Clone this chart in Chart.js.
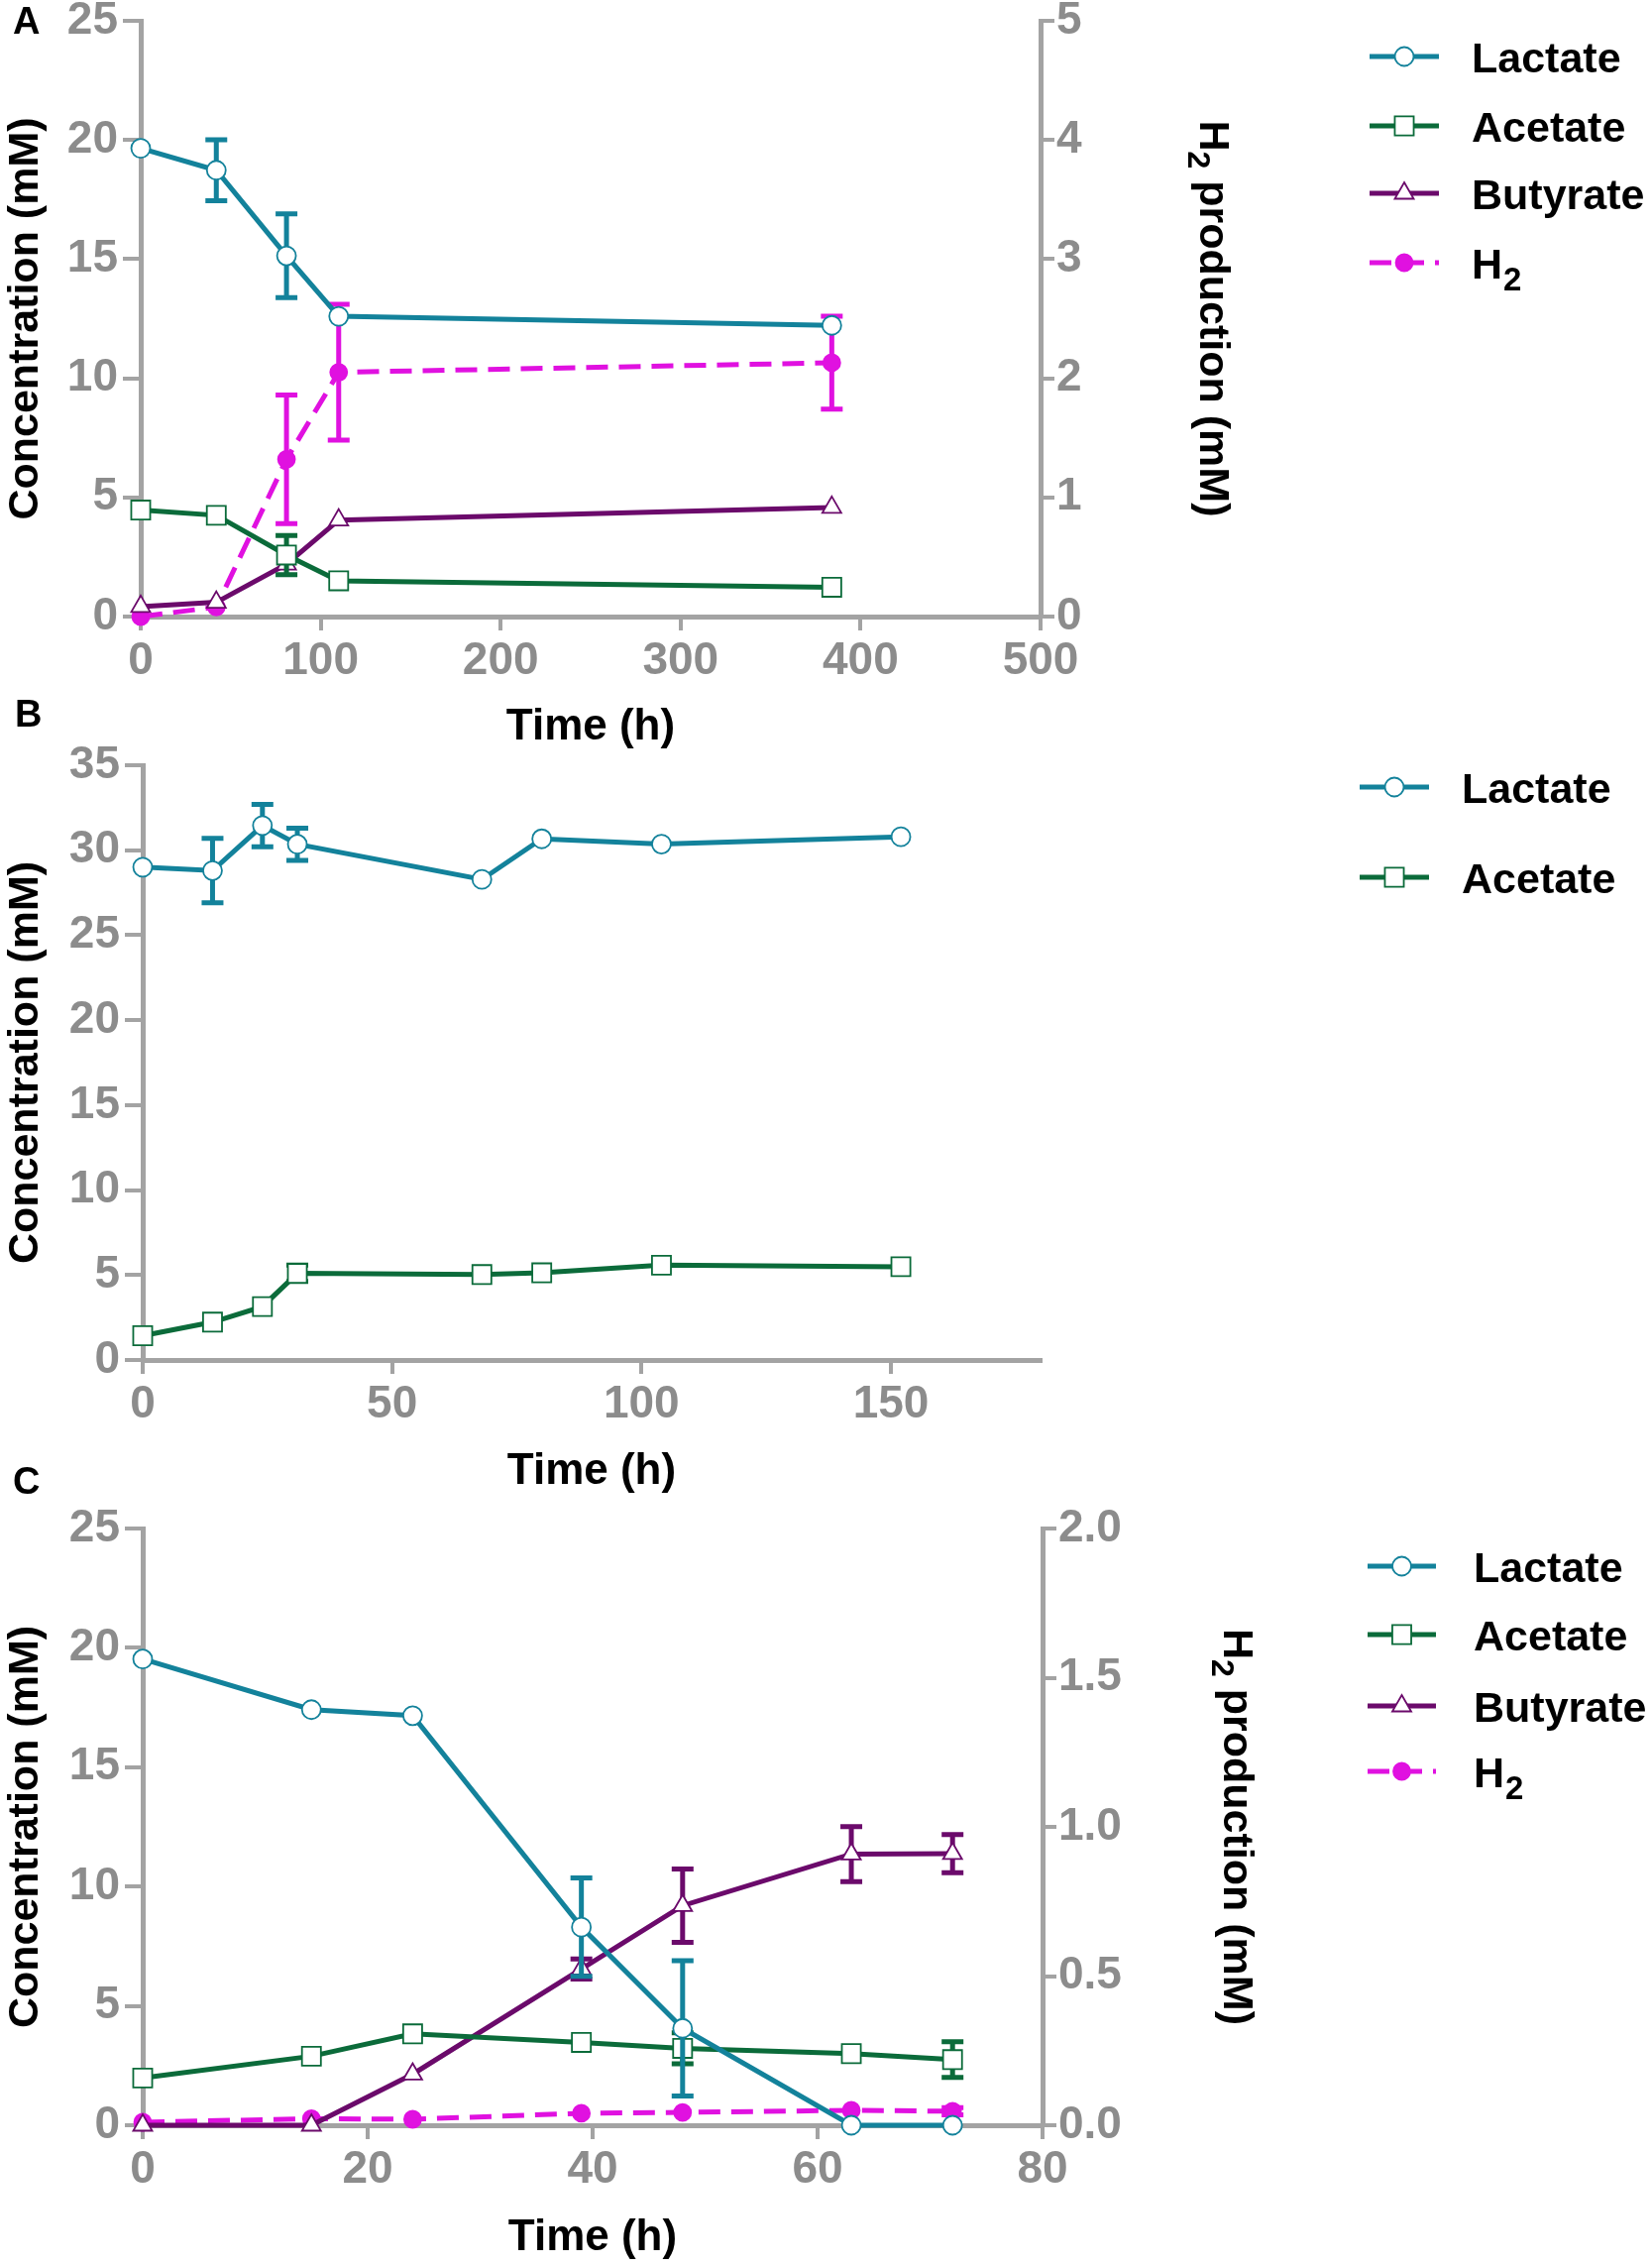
<!DOCTYPE html>
<html>
<head>
<meta charset="utf-8">
<script src="https://cdn.jsdelivr.net/npm/chart.js@4.4.1/dist/chart.umd.min.js"></script>
<style>
    body { margin: 0; background: #fff; width: 1667px; height: 2286px; position: relative; overflow: hidden; }
    .panel { position: absolute; left: 0; width: 1667px; }
</style>
</head>
<body>
<div class="panel" style="top:0;height:770px"><canvas id="chartA"></canvas></div>
<div class="panel" style="top:700px;height:820px"><canvas id="chartB"></canvas></div>
<div class="panel" style="top:1470px;height:816px"><canvas id="chartC"></canvas></div>

<script>
// Values (time in h, concentrations in mM)
const timeA = [0, 42, 81, 110, 384];
const lactateA = [19.65, 18.73, 15.14, 12.6, 12.22];
const lactateErrA = [0, 1.28, 1.76, 0, 0];
const acetateA = [4.47, 4.25, 2.58, 1.5, 1.23];
const acetateErrA = [0, 0, 0.82, 0, 0];
const butyrateA = [0.42, 0.6, 2.2, 4.05, 4.58];
const h2A = [0, 0.08, 1.32, 2.05, 2.13];
const h2ErrA = [0, 0, 0.54, 0.57, 0.39];

const timeB = [0, 14, 24, 31, 68, 80, 104, 152];
const lactateB = [29.0, 28.8, 31.45, 30.35, 28.28, 30.67, 30.36, 30.79];
const lactateErrB = [0, 1.9, 1.25, 0.95, 0, 0, 0, 0];
const acetateB = [1.43, 2.23, 3.14, 5.1, 5.03, 5.13, 5.58, 5.49];
const acetateErrB = [0, 0, 0, 0.48, 0, 0, 0, 0];

const timeC = [0, 15, 24, 39, 48, 63, 72];
const lactateC = [19.53, 17.41, 17.16, 8.3, 4.06, 0, 0];
const lactateErrC = [0, 0, 0, 2.06, 2.83, 0, 0];
const acetateC = [1.98, 2.89, 3.83, 3.47, 3.22, 3.0, 2.75];
const acetateErrC = [0, 0, 0, 0, 0.65, 0, 0.75];
const butyrateC = [0, 0, 2.14, 6.55, 9.2, 11.36, 11.38];
const butyrateErrC = [0, 0, 0, 0.42, 1.54, 1.15, 0.8];
const h2C = [0.01, 0.022, 0.02, 0.04, 0.043, 0.05, 0.047];
const h2ErrC = [0, 0, 0, 0, 0, 0, 0.012];

const FONT = "'Liberation Sans', Arial, sans-serif";
const AXIS_GREY = '#a3a3a3';
const TICK_GREY = '#8c8c8c';
const TICK_FONT = { family: FONT, size: 46, weight: 'bold' };

// per-series look
const STYLES = {
    Lactate:  { color: '#13829b', pointStyle: 'circle',   radius: 9.5, fill: '#fff', dash: [] },
    Acetate:  { color: '#0b6b3a', pointStyle: 'rect',     radius: 13.5, fill: '#fff', dash: [] },
    Butyrate: { color: '#6b0a6b', pointStyle: 'triangle', radius: 11, fill: '#fff', dash: [] },
    H2:       { color: '#e011e0', pointStyle: 'circle',   radius: 8.5, fill: '#e011e0', dash: [22, 11] }
};

function series(name, times, values, errors, axis) {
    const s = STYLES[name];
    return {
        label: name === 'H2' ? 'H₂' : name,
        legendName: name,
        data: times.map((t, i) => ({ x: t, y: values[i] })),
        errors: errors || null,
        yAxisID: axis || 'y',
        borderColor: s.color,
        borderWidth: 5,
        borderDash: s.dash,
        pointStyle: s.pointStyle,
        pointRadius: s.radius,
        pointBackgroundColor: s.fill,
        pointBorderColor: s.color,
        pointBorderWidth: 1.8,
        tension: 0,
        fill: false,
        clip: false
    };
}

// vertical error bars with caps, drawn from the dataset's own scale
const errorBars = {
    id: 'errorBars',
    beforeDatasetDraw(chart, args) {
        const ds = chart.data.datasets[args.index];
        if (!ds.errors) return;
        const yScale = chart.scales[ds.yAxisID];
        const ctx = chart.ctx;
        ctx.save();
        ctx.strokeStyle = ds.borderColor;
        ctx.lineWidth = 5;
        ctx.setLineDash([]);
        args.meta.data.forEach((pt, i) => {
            const e = ds.errors[i];
            if (!e) return;
            const v = ds.data[i].y;
            const top = yScale.getPixelForValue(v + e);
            const bot = yScale.getPixelForValue(v - e);
            ctx.beginPath();
            ctx.moveTo(pt.x, top); ctx.lineTo(pt.x, bot);
            ctx.moveTo(pt.x - 11, top); ctx.lineTo(pt.x + 11, top);
            ctx.moveTo(pt.x - 11, bot); ctx.lineTo(pt.x + 11, bot);
            ctx.stroke();
        });
        ctx.restore();
    }
};

// panel letter in the top-left corner
const panelTag = {
    id: 'panelTag',
    afterDraw(chart, args, opts) {
        if (!opts || !opts.text) return;
        const ctx = chart.ctx;
        ctx.save();
        ctx.fillStyle = '#000';
        ctx.font = 'bold 38px ' + FONT;
        ctx.textBaseline = 'alphabetic';
        ctx.fillText(opts.text, opts.x, opts.y);
        ctx.restore();
    }
};

// "H2 production (mM)" with a real subscript, placed at the outer edge of the right axis
const h2Title = {
    id: 'h2Title',
    afterDraw(chart) {
        const scale = chart.scales.y2;
        if (!scale) return;
        const ctx = chart.ctx;
        const big = 'bold 43px ' + FONT, small = 'bold 32px ' + FONT;
        const rest = ' production (mM)';
        ctx.save();
        ctx.font = big;
        const wH = ctx.measureText('H').width, wRest = ctx.measureText(rest).width;
        ctx.font = small;
        const w2 = ctx.measureText('2').width;
        const total = wH + w2 + wRest;
        ctx.translate(scale.right - 25, (chart.chartArea.top + chart.chartArea.bottom) / 2);
        ctx.rotate(Math.PI / 2);
        ctx.fillStyle = '#000';
        ctx.textBaseline = 'alphabetic';
        let x = -total / 2;
        ctx.font = big;
        ctx.fillText('H', x, 15);
        x += wH;
        ctx.font = small;
        ctx.fillText('2', x, 27);
        x += w2;
        ctx.font = big;
        ctx.fillText(rest, x, 15);
        ctx.restore();
    }
};

// legend to the right: line sample + marker + label
const sideLegend = {
    id: 'sideLegend',
    afterDraw(chart, args, opts) {
        if (!opts || !opts.rows) return;
        const ctx = chart.ctx;
        chart.data.datasets.forEach((ds, i) => {
            const y = opts.rows[i];
            const s = STYLES[ds.legendName];
            ctx.save();
            ctx.strokeStyle = s.color;
            ctx.lineWidth = 5;
            ctx.setLineDash(s.dash);
            ctx.beginPath();
            ctx.moveTo(opts.x0, y); ctx.lineTo(opts.x1, y);
            ctx.stroke();
            ctx.setLineDash([]);
            ctx.fillStyle = s.fill;
            ctx.strokeStyle = s.color;
            ctx.lineWidth = 1.8;
            Chart.helpers.drawPoint(ctx, { pointStyle: s.pointStyle, radius: s.radius, borderWidth: 1.8, rotation: 0 },
                (opts.x0 + opts.x1) / 2, y);
            ctx.fillStyle = '#000';
            ctx.textBaseline = 'alphabetic';
            ctx.font = 'bold 43px ' + FONT;
            const base = y + 16;
            if (ds.legendName === 'H2') {
                ctx.fillText('H', opts.textX, base);
                const w = ctx.measureText('H').width;
                ctx.font = 'bold 33px ' + FONT;
                ctx.fillText('2', opts.textX + w + 1, base + 12);
            } else {
                ctx.fillText(ds.label, opts.textX, base);
            }
            ctx.restore();
        });
    }
};

function xAxis(max, step, height, keep) {
    return {
        type: 'linear', min: 0, max: max,
        afterFit(s) { s.height = height; s.paddingLeft = 0; s.paddingRight = 0; },
        afterBuildTicks(s) { if (keep) s.ticks = s.ticks.filter(t => t.value % keep === 0); },
        ticks: { stepSize: step, color: TICK_GREY, padding: 4, font: TICK_FONT },
        grid: { drawOnChartArea: false, color: AXIS_GREY, lineWidth: 4, tickLength: 14 },
        border: { color: AXIS_GREY, width: 5 },
        title: { display: true, text: 'Time (h)', color: '#000', padding: { top: 0, bottom: 2 },
                 font: { family: FONT, size: 44, weight: 'bold' } }
    };
}

function leftAxis(max, width) {
    return {
        type: 'linear', position: 'left', min: 0, max: max,
        afterFit(s) { s.width = width; s.paddingTop = 0; s.paddingBottom = 0; },
        ticks: { stepSize: 5, color: TICK_GREY, padding: 5, font: TICK_FONT },
        grid: { drawOnChartArea: false, color: AXIS_GREY, lineWidth: 4, tickLength: 18 },
        border: { color: AXIS_GREY, width: 5 },
        title: { display: true, text: 'Concentration (mM)', color: '#000', padding: { top: 0, bottom: 0 },
                 font: { family: FONT, size: 43, weight: 'bold' } }
    };
}

function rightAxis(max, step, width, decimals) {
    return {
        type: 'linear', position: 'right', min: 0, max: max,
        afterFit(s) { s.width = width; s.paddingTop = 0; s.paddingBottom = 0; },
        ticks: { stepSize: step, color: TICK_GREY, padding: 2, font: TICK_FONT,
                 callback: v => v.toFixed(decimals) },
        grid: { drawOnChartArea: false, color: AXIS_GREY, lineWidth: 4, tickLength: 14 },
        border: { color: AXIS_GREY, width: 5 },
        title: { display: false }
    };
}

function baseOptions(padding, scales, legendOpts, tagOpts) {
    return {
        responsive: true,
        maintainAspectRatio: false,
        devicePixelRatio: 1,
        animation: false,
        layout: { padding: padding },
        plugins: { legend: { display: false }, tooltip: { enabled: false }, sideLegend: legendOpts, panelTag: tagOpts },
        scales: scales
    };
}

// Panel A
new Chart(document.getElementById('chartA'), {
    type: 'line',
    data: {
        datasets: [
            series('Lactate', timeA, lactateA, lactateErrA),
            series('Acetate', timeA, acetateA, acetateErrA),
            series('Butyrate', timeA, butyrateA, null),
            series('H2', timeA, h2A, h2ErrA, 'y2')
        ]
    },
    options: baseOptions({ left: 0, top: 21, right: 416, bottom: 8 }, {
        x: xAxis(500, 100, 140),
        y: leftAxis(25, 142),
        y2: rightAxis(5, 1, 201, 0)
    }, { x0: 1382, x1: 1452, textX: 1485, rows: [57, 127, 195, 265] },
       { text: 'A', x: 13, y: 34 }),
    plugins: [errorBars, sideLegend, h2Title, panelTag]
});

// Panel B
new Chart(document.getElementById('chartB'), {
    type: 'line',
    data: {
        datasets: [
            series('Lactate', timeB, lactateB, lactateErrB),
            series('Acetate', timeB, acetateB, acetateErrB)
        ]
    },
    options: baseOptions({ left: 0, top: 72, right: 617, bottom: 7 }, {
        x: xAxis(180, 10, 141, 50),
        y: leftAxis(35, 144)
    }, { x0: 1372, x1: 1442, textX: 1475, rows: [94, 185] },
       { text: 'B', x: 15, y: 33 }),
    plugins: [errorBars, sideLegend, panelTag]
});

// Panel C
new Chart(document.getElementById('chartC'), {
    type: 'line',
    data: {
        datasets: [
            series('Lactate', timeC, lactateC, lactateErrC),
            series('Acetate', timeC, acetateC, acetateErrC),
            series('Butyrate', timeC, butyrateC, butyrateErrC),
            series('H2', timeC, h2C, h2ErrC, 'y2')
        ]
    },
    options: baseOptions({ left: 0, top: 72, right: 392, bottom: 0 }, {
        x: xAxis(80, 20, 142),
        y: leftAxis(25, 144),
        y2: rightAxis(2, 0.5, 223, 1)
    }, { x0: 1380, x1: 1449, textX: 1487, rows: [110, 179, 251, 317] },
       { text: 'C', x: 13, y: 37 }),
    plugins: [errorBars, sideLegend, h2Title, panelTag]
});
</script>
</body>
</html>
